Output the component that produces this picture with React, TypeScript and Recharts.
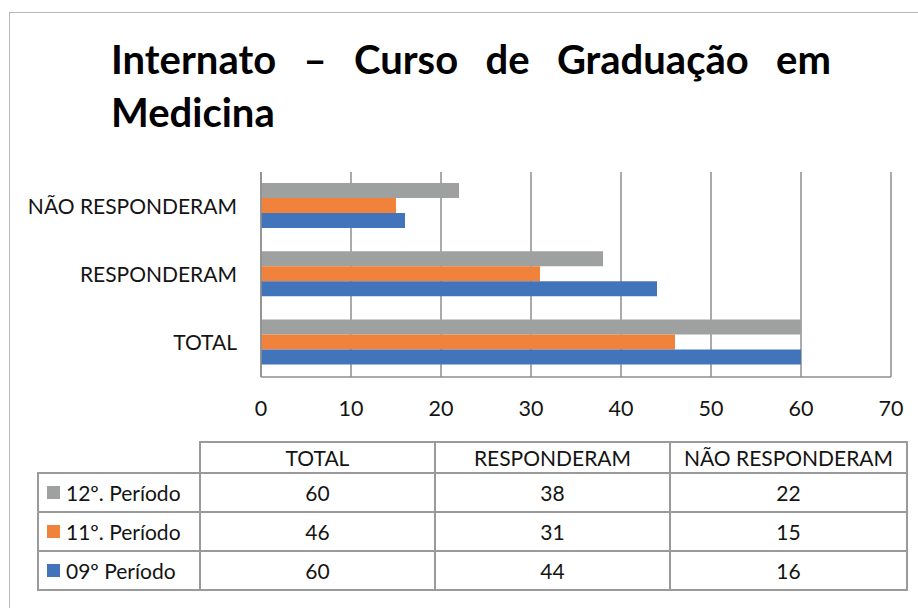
import React from 'react';
import { BarChart, Bar, XAxis, YAxis, CartesianGrid } from 'recharts';

const titleLine1Words = ['Internato', '–', 'Curso', 'de', 'Graduação', 'em'];
const titleLine2 = 'Medicina';

const categories = ['TOTAL', 'RESPONDERAM', 'NÃO RESPONDERAM'];
const seriesNames = ['12º. Período', '11º. Período', '09º Período'];
const periodo12 = [60, 38, 22];
const periodo11 = [46, 31, 15];
const periodo09 = [60, 44, 16];
const xTicks = [0, 10, 20, 30, 40, 50, 60, 70];
const seriesColors = ['#9FA1A1', '#F0823C', '#4274BC'];

const seriesValues = [periodo12, periodo11, periodo09];
const seriesKeys = ['p12', 'p11', 'p09'];

// Chart rows top-to-bottom (TOTAL at the bottom, as in the reference)
const chartData = categories
  .map((category, i) => ({
    category,
    p12: periodo12[i],
    p11: periodo11[i],
    p09: periodo09[i],
  }))
  .reverse();

const FONT = 'Lato, "Open Sans", sans-serif';
const TEXT = '#141414';
const GRID = '#8E8E8E';
const TABLE_BORDER = '#9A9A9A';

export default function App() {
  const cellBase: React.CSSProperties = {
    border: `2px solid ${TABLE_BORDER}`,
    padding: 0,
    textAlign: 'center',
    verticalAlign: 'middle',
    color: TEXT,
  };
  return (
    <div
      style={{
        position: 'absolute',
        left: 0,
        top: 0,
        width: 918,
        height: 608,
        background: '#ffffff',
        overflow: 'hidden',
        fontFamily: FONT,
      }}
    >
      {/* chart frame */}
      <div
        style={{
          position: 'absolute',
          left: 9,
          top: 12,
          width: 920,
          height: 610,
          borderLeft: '1px solid #B8B8B8',
          borderTop: '1px solid #B8B8B8',
          boxSizing: 'border-box',
        }}
      />
      {/* title */}
      <div
        style={{
          position: 'absolute',
          left: 111,
          top: 35,
          width: 720,
          fontSize: 40,
          fontWeight: 700,
          lineHeight: '48px',
          color: '#000',
          display: 'flex',
          justifyContent: 'space-between',
          whiteSpace: 'nowrap',
        }}
      >
        {titleLine1Words.map((w, i) => (
          <span key={i}>{w}</span>
        ))}
      </div>
      <div
        style={{
          position: 'absolute',
          left: 111,
          top: 88,
          fontSize: 40,
          fontWeight: 700,
          lineHeight: '48px',
          color: '#000',
          whiteSpace: 'nowrap',
        }}
      >
        {titleLine2}
      </div>

      {/* bar chart */}
      <div style={{ position: 'absolute', left: 0, top: 0 }}>
        <BarChart
          width={918}
          height={440}
          data={chartData}
          layout="vertical"
          margin={{ top: 172, right: 27, bottom: 0, left: 0 }}
          barCategoryGap="16%"
          barGap={0}
        >
          <CartesianGrid horizontal={false} vertical={true} stroke={GRID} strokeWidth={1.5} />
          <XAxis
            type="number"
            domain={[0, 70]}
            ticks={xTicks}
            interval={0}
            tickLine={false}
            axisLine={{ stroke: GRID, strokeWidth: 1.5 }}
            tickSize={0}
            tickMargin={24}
            height={63}
            tick={{ fontSize: 21.5, fill: TEXT, fontFamily: FONT }}
          />
          <YAxis
            type="category"
            dataKey="category"
            width={261}
            tickLine={false}
            axisLine={{ stroke: GRID, strokeWidth: 1.5 }}
            tickSize={0}
            tickMargin={24}
            tick={{ fontSize: 21, fill: TEXT, fontFamily: FONT }}
          />
          {seriesKeys.map((k, i) => (
            <Bar
              key={k}
              dataKey={k}
              name={seriesNames[i]}
              fill={seriesColors[i]}
              isAnimationActive={false}
            />
          ))}
        </BarChart>
      </div>

      {/* data table */}
      <table
        style={{
          position: 'absolute',
          left: 37,
          top: 441,
          width: 869,
          borderCollapse: 'collapse',
          tableLayout: 'fixed',
          fontFamily: FONT,
          fontSize: 21,
        }}
      >
        <colgroup>
          <col style={{ width: 162 }} />
          <col style={{ width: 235 }} />
          <col style={{ width: 235 }} />
          <col style={{ width: 237 }} />
        </colgroup>
        <tbody>
          <tr style={{ height: 31 }}>
            <td style={{ border: 'none', padding: 0 }} />
            {categories.map((c) => (
              <td key={c} style={cellBase}>
                {c}
              </td>
            ))}
          </tr>
          {seriesNames.map((name, si) => (
            <tr key={name} style={{ height: 39 }}>
              <td style={{ ...cellBase, textAlign: 'left' }}>
                <div style={{ display: 'flex', alignItems: 'center', paddingLeft: 8 }}>
                  <span
                    style={{
                      display: 'inline-block',
                      width: 13,
                      height: 13,
                      background: seriesColors[si],
                      marginRight: 6,
                    }}
                  />
                  <span>{name}</span>
                </div>
              </td>
              {seriesValues[si].map((v, ci) => (
                <td key={ci} style={cellBase}>
                  {v}
                </td>
              ))}
            </tr>
          ))}
        </tbody>
      </table>
    </div>
  );
}
